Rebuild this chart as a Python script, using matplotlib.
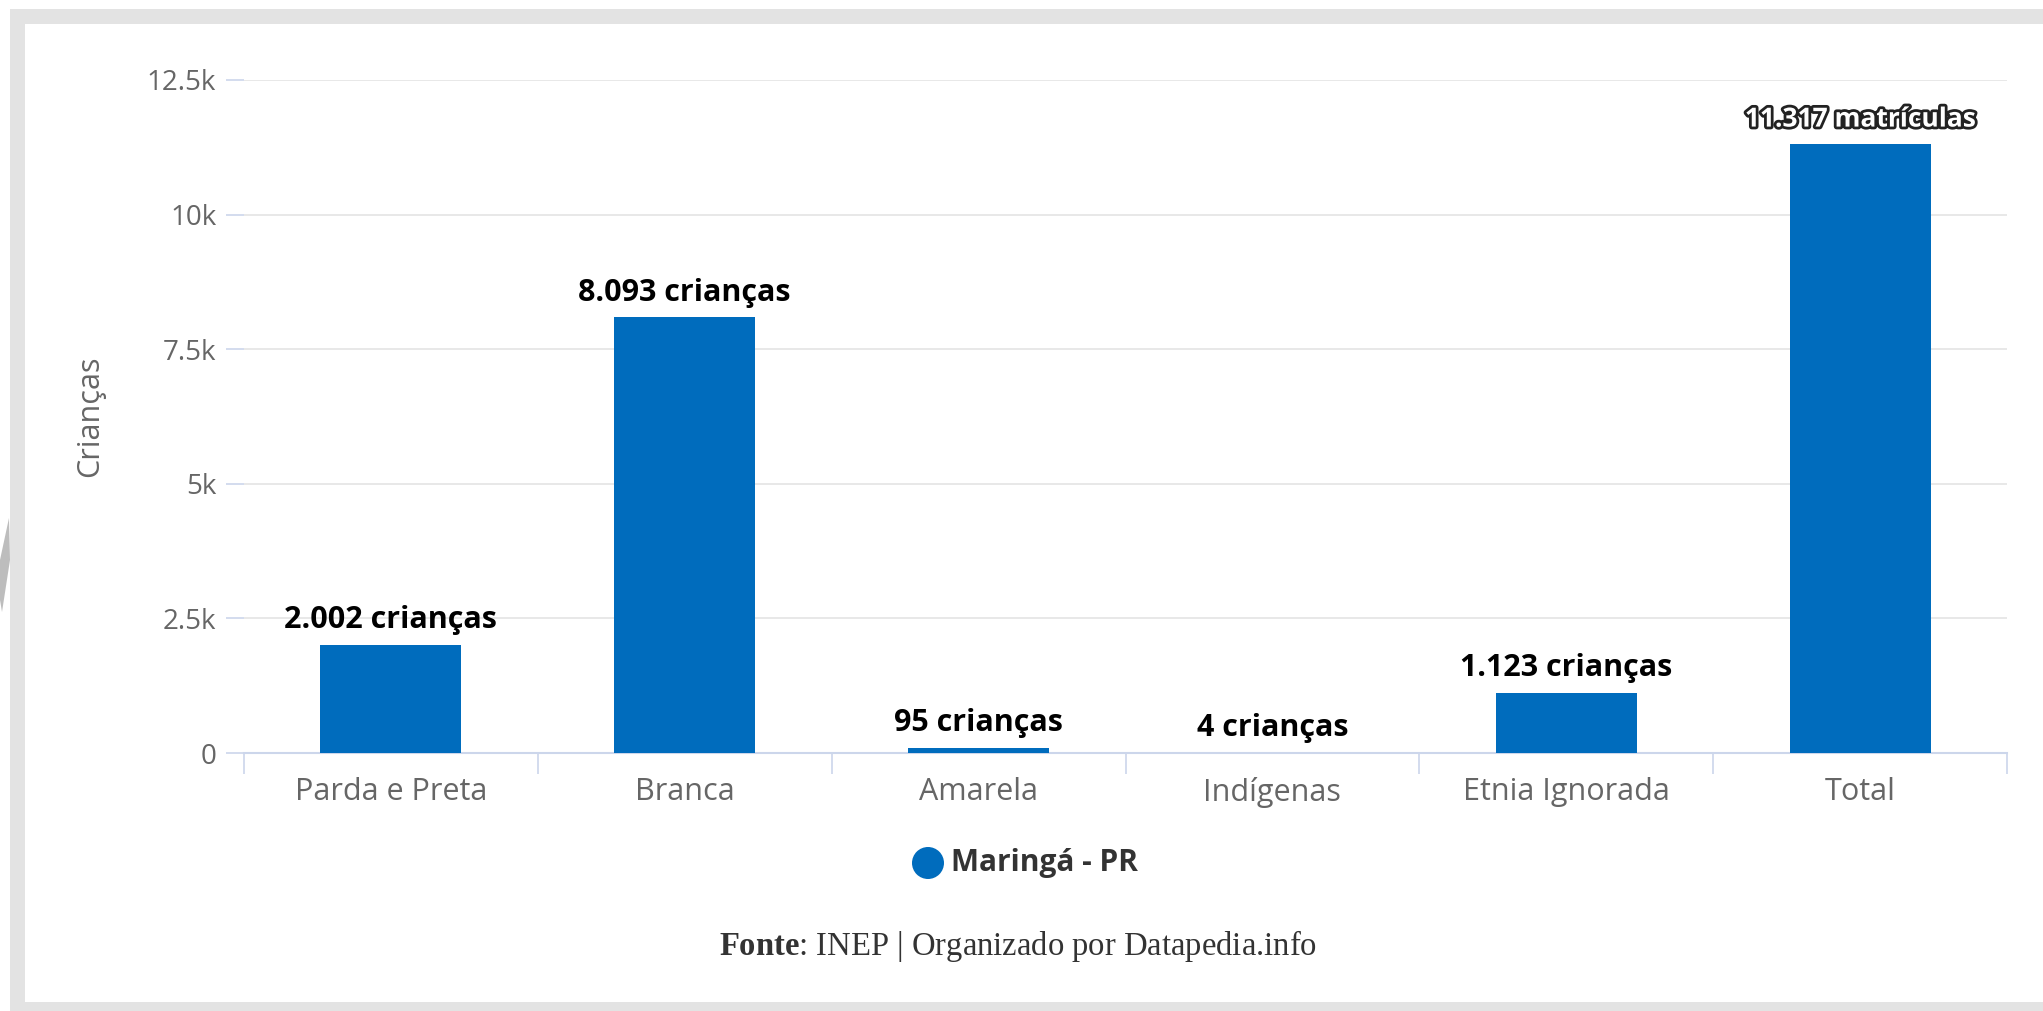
import numpy as np
import matplotlib
matplotlib.use("Agg")
import matplotlib.pyplot as plt
import matplotlib.patheffects as pe
from matplotlib.patches import Rectangle, Polygon, Circle

categories = ["Parda e Preta", "Branca", "Amarela", "Indígenas", "Etnia Ignorada", "Total"]
values = [2002, 8093, 95, 4, 1123, 11317]
value_labels = ["2.002 crianças", "8.093 crianças", "95 crianças", "4 crianças",
                "1.123 crianças", "11.317 matrículas"]
y_ticks = [0, 2500, 5000, 7500, 10000, 12500]
y_tick_labels = ["0", "2.5k", "5k", "7.5k", "10k", "12.5k"]
series_name = "Maringá - PR"

plt.rcParams["mathtext.fontset"] = "custom"
plt.rcParams["mathtext.rm"] = "Liberation Serif"
plt.rcParams["mathtext.bf"] = "Liberation Serif:bold"

W, H = 2043, 1011
fig = plt.figure(figsize=(W / 100, H / 100), dpi=100)
fig.patch.set_facecolor("white")

# grey frame around the chart (pixel coords)
frame = fig.add_axes([0, 0, 1, 1])
frame.set_xlim(0, W)
frame.set_ylim(H, 0)
frame.axis("off")
frame.add_patch(Rectangle((10, 9), W - 10, 15, color="#e3e3e3", lw=0))
frame.add_patch(Rectangle((10, 9), 15, H - 9, color="#e3e3e3", lw=0))
frame.add_patch(Rectangle((10, 1002), W - 10, 9, color="#e3e3e3", lw=0))
frame.add_patch(Polygon([(9, 518), (10, 560), (2, 612), (0, 600), (0, 560)],
                        closed=True, color="#bdbdbd", lw=0))

font = "Open Sans"
bar_color = "#006cbd"

left, right, top, bottom = 244, 2007, 80, 753
ax = fig.add_axes([left / W, (H - bottom) / H, (right - left) / W, (bottom - top) / H])
ax.set_facecolor("none")

x = np.arange(len(categories))
ax.bar(x, values, width=0.48, color=bar_color, zorder=3)
ax.set_xlim(-0.5, len(categories) - 0.5)
ax.set_ylim(0, 12500)

ax.set_yticks(y_ticks)
ax.set_yticklabels(y_tick_labels, fontsize=20, color="#666666", family=font)
ax.tick_params(axis="y", length=13, width=1.2, color="#ccd6eb", pad=7)
ax.grid(axis="y", color="#e6e6e6", lw=1.3, zorder=0)

ax.set_xticks(x)
ax.set_xticklabels(categories, fontsize=22, color="#666666", family=font)
ax.set_xticks(np.arange(-0.5, len(categories)), minor=True)
ax.tick_params(axis="x", which="major", length=0, pad=17)
ax.tick_params(axis="x", which="minor", length=15, width=1.2, color="#ccd6eb")

for s in ["top", "right", "left"]:
    ax.spines[s].set_visible(False)
ax.spines["bottom"].set_color("#ccd6eb")
ax.spines["bottom"].set_linewidth(1.5)

ax.set_ylabel("Crianças", fontsize=22, color="#666666", family=font, labelpad=30)

for i, (v, lab) in enumerate(zip(values, value_labels)):
    if i == len(values) - 1:
        ax.annotate(lab, (i, v), xytext=(0, 8), textcoords="offset points",
                    ha="center", va="bottom", fontsize=19, fontweight="bold",
                    color="white", family=font,
                    path_effects=[pe.withStroke(linewidth=4, foreground="#222222")])
    else:
        ax.annotate(lab, (i, v), xytext=(0, 7), textcoords="offset points",
                    ha="center", va="bottom", fontsize=22, fontweight="bold",
                    color="black", family=font)

# legend
frame.add_patch(Circle((928, 863), 16, color=bar_color, lw=0))
frame.text(951, 863, series_name, fontsize=21.5, fontweight="bold", color="#333333",
           family=font, ha="left", va="center")

# footer
fig.text(0.4985, (H - 946) / H, r"$\mathbf{Fonte}$: INEP | Organizado por Datapedia.info",
         fontsize=23.5, color="#333333", family="Liberation Serif", ha="center", va="center")

fig.savefig("out.png", dpi=100)
